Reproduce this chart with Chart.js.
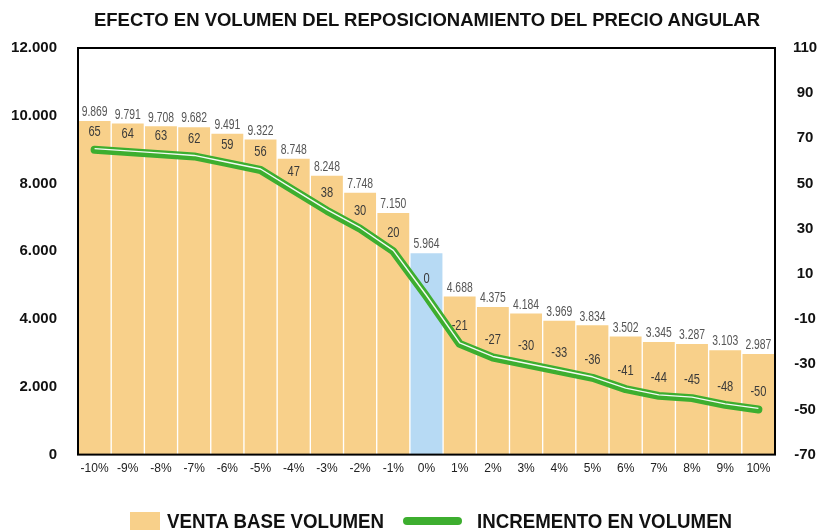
<!DOCTYPE html>
<html>
<head>
<meta charset="utf-8">
<script src="https://cdn.jsdelivr.net/npm/chart.js@4"></script>
<style>
  html, body { margin: 0; padding: 0; background: #fff; overflow: hidden; }
  #wrap { position: relative; width: 823px; height: 530px; }
  #titulo { position: absolute; left: 0; top: 9px; width: 854px; text-align: center;
    font-family: "Liberation Sans", Arial, sans-serif; font-weight: bold; font-size: 18.5px;
    line-height: 22px; color: #111; white-space: nowrap; }
  #legend { position: absolute; left: 0; top: 509px; width: 823px; height: 24px;
    font-family: "Liberation Sans", Arial, sans-serif;
    font-weight: bold; font-size: 21px; color: #111; white-space: nowrap; }
  #legend span { position: absolute; top: 0; line-height: 24px; transform: scaleX(0.89); transform-origin: left center; }
  .box { position: absolute; left: 130px; top: 3px; width: 30px; height: 20px; background: #F8D08A; }
  .ln { position: absolute; left: 403px; top: 8px; width: 59px; height: 8px; border-radius: 4px; background: #3DAE2F; }
</style>
</head>
<body>
<div id="wrap">
  <canvas id="chart" width="823" height="530"></canvas>
  <div id="titulo">EFECTO EN VOLUMEN DEL REPOSICIONAMIENTO DEL PRECIO ANGULAR</div>
  <div id="legend">
    <div class="box"></div><span style="left:167px">VENTA BASE VOLUMEN</span>
    <div class="ln"></div><span style="left:477px">INCREMENTO EN VOLUMEN</span>
  </div>
</div>
<script>
// Categorias (cambio de precio)
const categorias = ['-10%', '-9%', '-8%', '-7%', '-6%', '-5%', '-4%', '-3%', '-2%', '-1%', '0%',
  '1%', '2%', '3%', '4%', '5%', '6%', '7%', '8%', '9%', '10%'];

// Venta base volumen (eje izquierdo)
const ventaBase = [9869, 9791, 9708, 9682, 9491, 9322, 8748, 8248, 7748, 7150, 5964,
  4688, 4375, 4184, 3969, 3834, 3502, 3345, 3287, 3103, 2987];

// Incremento en volumen (eje derecho)
const incremento = [65, 64, 63, 62, 59, 56, 47, 38, 30, 20, 0,
  -21, -27, -30, -33, -36, -41, -44, -45, -48, -50];

const sans = '"Liberation Sans", Arial, sans-serif';

const colorBarra = '#F8D08A';
const colorBase = '#B7DAF4';
const colorLinea = '#3DAE2F';

function fmtMiles(v) {
  return String(v).replace(/\B(?=(\d{3})+(?!\d))/g, '.');
}

// texto estrecho (la fuente original es condensada)
function textoEstrecho(ctx, txt, x, y, k) {
  ctx.save();
  ctx.scale(k, 1);
  ctx.fillText(txt, x / k, y);
  ctx.restore();
}

// Borde, brillo de la linea y etiquetas
const etiquetas = {
  id: 'etiquetas',
  afterDatasetsDraw(chart) {
    const ctx = chart.ctx;
    const area = chart.chartArea;
    const barras = chart.getDatasetMeta(0).data;
    const puntos = chart.getDatasetMeta(1).data;

    ctx.save();
    // marco del grafico
    ctx.strokeStyle = '#000';
    ctx.lineWidth = 2;
    ctx.strokeRect(area.left, area.top, area.right - area.left, area.bottom - area.top);

    // brillo blanco sobre la linea verde
    ctx.beginPath();
    puntos.forEach((p, i) => {
      if (i === 0) ctx.moveTo(p.x, p.y - 1);
      else ctx.lineTo(p.x, p.y - 1);
    });
    ctx.strokeStyle = 'rgba(255,255,255,0.95)';
    ctx.lineWidth = 1.4;
    ctx.lineJoin = 'round';
    ctx.stroke();

    ctx.textAlign = 'center';
    // valores sobre las barras
    ctx.font = '14px ' + sans;
    ctx.fillStyle = '#555';
    ctx.textBaseline = 'bottom';
    barras.forEach((b, i) => {
      textoEstrecho(ctx, fmtMiles(ventaBase[i]), b.x, b.y - 1, 0.74);
    });
    // incremento dentro de las barras
    ctx.font = '15px ' + sans;
    ctx.fillStyle = '#3a3a3a';
    ctx.textBaseline = 'middle';
    barras.forEach((b, i) => {
      textoEstrecho(ctx, String(incremento[i]), b.x, puntos[i].y - 18, 0.74);
    });
    ctx.restore();
  }
};

new Chart(document.getElementById('chart'), {
  data: {
    labels: categorias,
    datasets: [{
      type: 'bar',
      label: 'VENTA BASE VOLUMEN',
      data: ventaBase,
      yAxisID: 'y',
      backgroundColor: categorias.map(c => c === '0%' ? colorBase : colorBarra),
      borderColor: '#fff',
      borderWidth: 1,
      barPercentage: 1,
      categoryPercentage: 1,
      order: 2
    }, {
      type: 'line',
      label: 'INCREMENTO EN VOLUMEN',
      data: incremento,
      yAxisID: 'y1',
      borderColor: colorLinea,
      borderWidth: 8,
      borderCapStyle: 'round',
      borderJoinStyle: 'round',
      pointRadius: 0,
      tension: 0,
      fill: false,
      order: 1
    }]
  },
  options: {
    responsive: false,
    animation: false,
    layout: { padding: { left: 10, right: 4, top: 48, bottom: 47 } },
    plugins: {
      legend: { display: false },
      tooltip: { enabled: false },
      title: { display: false }
    },
    scales: {
      x: {
        grid: { display: false, drawTicks: false },
        border: { display: false },
        ticks: { color: '#222', font: { family: sans, size: 12 }, padding: 7, maxRotation: 0, autoSkip: false }
      },
      y: {
        position: 'left',
        min: 0,
        max: 12000,
        grid: { display: false, drawTicks: false },
        border: { display: false },
        afterFit: s => { s.width = 68; },
        ticks: {
          stepSize: 2000,
          color: '#111',
          padding: 21,
          font: { family: sans, size: 15, weight: 'bold' },
          callback: v => fmtMiles(v)
        }
      },
      y1: {
        position: 'right',
        min: -70,
        max: 110,
        grid: { display: false, drawTicks: false },
        border: { display: false },
        afterFit: s => { s.width = 44; },
        ticks: {
          stepSize: 20,
          color: '#111',
          padding: 18,
          crossAlign: 'center',
          font: { family: sans, size: 15, weight: 'bold' }
        }
      }
    }
  },
  plugins: [etiquetas]
});
</script>
</body>
</html>
